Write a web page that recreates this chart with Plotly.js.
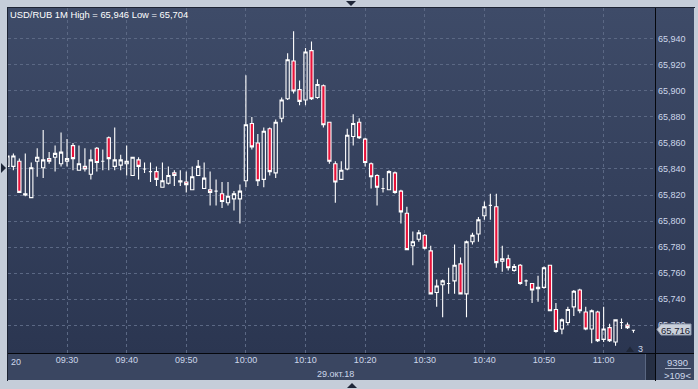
<!DOCTYPE html>
<html>
<head>
<meta charset="utf-8">
<script src="https://cdn.plot.ly/plotly-3.0.1.min.js"></script>
<style>
  html, body { margin: 0; padding: 0; background: #c5cdd9; }
  #wrap { position: relative; width: 698px; height: 389px; background: #c5cdd9; overflow: hidden; }
  .bg { position: absolute; }
  #chart { position: absolute; left: 0; top: 0; width: 698px; height: 389px; }
</style>
</head>
<body>
<div id="wrap">
  <div class="bg" style="left:7px;top:7px;width:688px;height:1px;background:#1c2333;"></div>
  <div class="bg" style="left:7px;top:7px;width:1px;height:374px;background:#1c2333;"></div>
  <div class="bg" style="left:8px;top:8px;width:647px;height:345px;background:linear-gradient(#3e4b68,#2b3651);"></div>
  <div class="bg" style="left:656px;top:8px;width:38px;height:345px;background:linear-gradient(#3e4b68,#2b3651);"></div>
  <div class="bg" style="left:8px;top:354px;width:647px;height:26px;background:#3a4661;"></div>
  <div class="bg" style="left:656px;top:354px;width:38px;height:26px;background:#3a4661;"></div>
  <div class="bg" style="left:645px;top:354px;width:10px;height:26px;background:#262f43;border-left:1px solid #5a6781;box-sizing:border-box;"></div>
  <div class="bg" style="left:655px;top:8px;width:1px;height:373px;background:#05070c;"></div>
  <div class="bg" style="left:8px;top:353px;width:686px;height:1px;background:#05070c;"></div>
  <div class="bg" style="left:665px;top:368px;width:26px;height:1px;background:#aab4c8;"></div>
  <div class="bg" style="left:346px;top:1px;width:0;height:0;border-left:5px solid transparent;border-right:5px solid transparent;border-top:5px solid #1e2638;"></div>
  <div class="bg" style="left:347px;top:383px;width:0;height:0;border-left:5px solid transparent;border-right:5px solid transparent;border-bottom:5px solid #1e2638;"></div>
  <div class="bg" style="left:1px;top:163px;width:0;height:0;border-top:5px solid transparent;border-bottom:5px solid transparent;border-left:5px solid #1e2638;"></div>
  <div id="chart"></div>
</div>
<script>
// ---- data ----
const times = [
 '09:20','09:21','09:22','09:23','09:24','09:25','09:26','09:27','09:28','09:29',
 '09:30','09:31','09:32','09:33','09:34','09:35','09:36','09:37','09:38','09:39',
 '09:40','09:41','09:42','09:43','09:44','09:45','09:46','09:47','09:48','09:49',
 '09:50','09:51','09:52','09:53','09:54','09:55','09:56','09:57','09:58','09:59',
 '10:00','10:01','10:02','10:03','10:04','10:05','10:06','10:07','10:08','10:09',
 '10:10','10:11','10:12','10:13','10:14','10:15','10:16','10:17','10:18','10:19',
 '10:20','10:21','10:22','10:23','10:24','10:25','10:26','10:27','10:28','10:29',
 '10:30','10:31','10:32','10:33','10:34','10:35','10:36','10:37','10:38','10:39',
 '10:40','10:41','10:42','10:43','10:44','10:45','10:46','10:47','10:48','10:49',
 '10:50','10:51','10:52','10:53','10:54','10:55','10:56','10:57','10:58','10:59',
 '11:00','11:01','11:02','11:03','11:04','11:05'
];
const tradeDate = '2018-10-29';
const openVals = [
 65.842,65.842,65.846,65.820,65.818,65.846,65.841,65.848,65.849,65.844,
 65.846,65.858,65.839,65.842,65.836,65.856,65.846,65.864,65.842,65.843,
 65.844,65.835,65.847,65.840,65.838,65.838,65.826,65.829,65.837,65.830,
 65.830,65.824,65.835,65.825,65.824,65.823,65.821,65.814,65.817,65.817,
 65.831,65.875,65.860,65.832,65.871,65.837,65.879,65.894,65.923,65.901,
 65.893,65.931,65.895,65.904,65.876,65.844,65.832,65.840,65.865,65.876,
 65.863,65.844,65.835,65.825,65.824,65.837,65.823,65.806,65.781,65.786,
 65.789,65.777,65.745,65.751,65.752,65.754,65.767,65.744,65.784,65.790,
 65.804,65.812,65.811,65.769,65.771,65.762,65.766,65.754,65.752,65.749,
 65.749,65.766,65.732,65.717,65.722,65.734,65.747,65.730,65.717,65.730,
 65.709,65.718,65.707,65.722,65.720,65.716
];
const highVals = [
 65.852,65.852,65.848,65.852,65.845,65.856,65.870,65.853,65.858,65.868,
 65.863,65.860,65.858,65.856,65.855,65.857,65.855,65.865,65.872,65.851,
 65.858,65.849,65.849,65.845,65.845,65.842,65.845,65.842,65.839,65.839,
 65.838,65.842,65.847,65.845,65.838,65.832,65.830,65.830,65.823,65.828,
 65.912,65.880,65.867,65.872,65.872,65.878,65.895,65.929,65.946,65.908,
 65.933,65.938,65.909,65.905,65.876,65.846,65.846,65.871,65.882,65.879,
 65.864,65.845,65.836,65.833,65.839,65.838,65.824,65.811,65.792,65.793,
 65.790,65.781,65.755,65.755,65.764,65.782,65.772,65.785,65.791,65.803,
 65.815,65.821,65.821,65.781,65.774,65.767,65.767,65.755,65.752,65.758,
 65.765,65.766,65.737,65.725,65.734,65.747,65.748,65.734,65.732,65.731,
 65.734,65.721,65.724,65.725,65.722,65.716
];
const lowVals = [
 65.841,65.839,65.822,65.819,65.818,65.834,65.833,65.844,65.838,65.842,
 65.842,65.839,65.839,65.838,65.832,65.838,65.839,65.839,65.839,65.839,
 65.835,65.835,65.832,65.837,65.830,65.827,65.826,65.828,65.827,65.827,
 65.822,65.824,65.835,65.825,65.812,65.812,65.810,65.812,65.808,65.798,
 65.826,65.855,65.827,65.826,65.835,65.833,65.876,65.893,65.898,65.889,
 65.889,65.893,65.894,65.872,65.844,65.814,65.832,65.839,65.858,65.863,
 65.842,65.825,65.812,65.822,65.824,65.821,65.798,65.778,65.766,65.784,
 65.778,65.744,65.734,65.726,65.744,65.744,65.744,65.726,65.782,65.784,
 65.801,65.801,65.764,65.761,65.762,65.761,65.751,65.750,65.737,65.738,
 65.748,65.731,65.714,65.713,65.720,65.727,65.729,65.716,65.706,65.707,
 65.707,65.707,65.704,65.717,65.717,65.714
];
const closeVals = [
 65.850,65.850,65.822,65.821,65.841,65.849,65.847,65.846,65.852,65.853,
 65.848,65.848,65.844,65.840,65.847,65.845,65.846,65.848,65.847,65.847,
 65.846,65.849,65.842,65.840,65.838,65.832,65.831,65.835,65.835,65.831,
 65.828,65.834,65.842,65.833,65.822,65.823,65.815,65.819,65.821,65.823,
 65.874,65.857,65.831,65.869,65.838,65.876,65.893,65.924,65.900,65.892,
 65.930,65.894,65.905,65.874,65.846,65.830,65.839,65.866,65.875,65.864,
 65.845,65.834,65.826,65.825,65.838,65.822,65.807,65.778,65.784,65.791,
 65.779,65.744,65.750,65.754,65.752,65.766,65.744,65.784,65.789,65.801,
 65.811,65.812,65.768,65.771,65.764,65.765,65.752,65.754,65.747,65.748,
 65.764,65.731,65.715,65.724,65.732,65.746,65.731,65.717,65.731,65.708,
 65.717,65.708,65.724,65.722,65.718,65.716
];
const yTickVals = [65.72,65.74,65.76,65.78,65.80,65.82,65.84,65.86,65.88,65.90,65.92,65.94];
const titleText = 'USD/RUB 1M High = 65,946 Low = 65,704';
const dateLabel = '29.окт.18';
const lastPrice = 65.716;
const lastPriceText = '65,716';
const volText = '9390';
const countText = '>109<';
const badgeText = '3';
const leftClippedTick = '20';

// ---- geometry helpers (pixel -> paper) ----
const W = 698, H = 389, ML = 8, MR = 43, MT = 8, MB = 36;
const PW = W - ML - MR, PH = H - MT - MB;
const px = v => (v - ML) / PW;
const py = v => (H - MB - v) / PH;

const xs = times.map(t => tradeDate + ' ' + t);
const FONT = 'Liberation Sans, Arial, sans-serif';
const labelColor = '#cdd7ea';

const trace = {
  type: 'candlestick',
  x: xs, open: openVals, high: highVals, low: lowVals, close: closeVals,
  increasing: { line: { color: '#ffffff', width: 1.1 }, fillcolor: 'rgba(0,0,0,0)' },
  decreasing: { line: { color: '#ffffff', width: 1.1 }, fillcolor: '#e8123a' },
  whiskerwidth: 0,
  hoverinfo: 'skip'
};

const layout = {
  width: W, height: H,
  margin: { l: ML, r: MR, t: MT, b: MB, pad: 0 },
  paper_bgcolor: 'rgba(0,0,0,0)',
  plot_bgcolor: 'rgba(0,0,0,0)',
  separators: ', ',
  showlegend: false,
  hovermode: false,
  dragmode: false,
  boxgap: 0.22,
  font: { family: FONT, size: 9, color: labelColor },
  xaxis: {
    type: 'date',
    range: [tradeDate + ' 09:20:06', tradeDate + ' 11:08:37'],
    rangeslider: { visible: false },
    tick0: tradeDate + ' 09:00', dtick: 600000, tickformat: '%H:%M',
    showgrid: true, gridcolor: '#5b6884', gridwidth: 1, griddash: '3px,3px',
    zeroline: false, showline: false, ticks: '',
    tickfont: { family: FONT, size: 9, color: labelColor },
    fixedrange: true
  },
  yaxis: {
    side: 'right',
    range: [65.6985, 65.9638],
    tickmode: 'array', tickvals: yTickVals, tickformat: '.3f',
    showgrid: true, gridcolor: '#5b6884', gridwidth: 1, griddash: '3px,3px',
    zeroline: false, showline: false, ticks: '',
    ticklabelstandoff: 2,
    tickfont: { family: FONT, size: 9, color: labelColor },
    fixedrange: true
  },
  shapes: [
    { type: 'path', xref: 'paper', yref: 'paper', layer: 'above',
      path: `M ${px(657)} ${py(329.5)} L ${px(661)} ${py(324)} L ${px(691)} ${py(324)} L ${px(691)} ${py(335)} L ${px(661)} ${py(335)} Z`,
      fillcolor: '#c9d0db', line: { color: '#8e99ad', width: 1 } },
    { type: 'path', xref: 'paper', yref: 'paper', layer: 'above',
      path: `M ${px(630)} ${py(346.5)} L ${px(634)} ${py(352)} L ${px(626)} ${py(352)} Z`,
      fillcolor: '#1f2738', line: { width: 0 } }
  ],
  annotations: [
    { text: titleText, xref: 'paper', yref: 'paper', x: px(9), y: py(15), xanchor: 'left', yanchor: 'middle',
      showarrow: false, font: { family: FONT, size: 9.4, color: '#ffffff' }, borderpad: 0 },
    { text: leftClippedTick, xref: 'paper', yref: 'paper', x: px(9.5), y: py(362), xanchor: 'left', yanchor: 'middle',
      showarrow: false, font: { family: FONT, size: 9, color: labelColor }, borderpad: 0 },
    { text: dateLabel, xref: 'paper', yref: 'paper', x: px(335), y: py(374), xanchor: 'center', yanchor: 'middle',
      showarrow: false, font: { family: FONT, size: 9, color: labelColor }, borderpad: 0 },
    { text: volText, xref: 'paper', yref: 'paper', x: px(677), y: py(362), xanchor: 'center', yanchor: 'middle',
      showarrow: false, font: { family: FONT, size: 9.5, color: labelColor }, borderpad: 0 },
    { text: countText, xref: 'paper', yref: 'paper', x: px(677), y: py(375.5), xanchor: 'center', yanchor: 'middle',
      showarrow: false, font: { family: FONT, size: 9.5, color: labelColor }, borderpad: 0 },
    { text: badgeText, xref: 'paper', yref: 'paper', x: px(640), y: py(349), xanchor: 'center', yanchor: 'middle',
      showarrow: false, font: { family: FONT, size: 9, color: labelColor }, borderpad: 0 },
    { text: lastPriceText, xref: 'paper', yref: 'y', x: px(675), y: lastPrice, xanchor: 'center', yanchor: 'middle',
      showarrow: false, font: { family: FONT, size: 9.5, color: '#1a2130' }, borderpad: 0 }
  ]
};

Plotly.newPlot('chart', [trace], layout, { displayModeBar: false, staticPlot: true });
</script>
</body>
</html>
